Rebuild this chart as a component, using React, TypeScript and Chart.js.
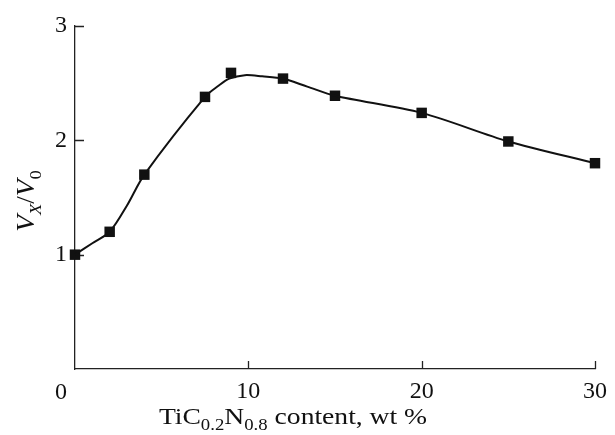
import React, { useEffect, useRef } from "react";
import { Chart, registerables } from "chart.js";

Chart.register(...registerables);

// Measured points (TiC0.2N0.8 content, wt % -> Vx/V0)
const markerX = [0, 2, 4, 7.5, 9, 12, 15, 20, 25, 30];
const markerY = [1.0, 1.2, 1.7, 2.38, 2.59, 2.54, 2.39, 2.24, 1.99, 1.8];

// Smooth fitted curve
const curveX = [0, 1, 2, 3, 4, 7.5, 8.3, 8.9, 9.8, 10.8, 12, 13.4, 15, 20, 25, 30];
const curveY = [1.0, 1.1, 1.2, 1.43, 1.7, 2.38, 2.48, 2.54, 2.57, 2.56, 2.54, 2.47, 2.39, 2.24, 1.99, 1.8];

// Tick labels
const xTicks = [0, 10, 20, 30];
const yTicks = [1, 2, 3];

type Part = { t: string; sub?: boolean; it?: boolean };
const xTitleParts: Part[] = [
  { t: "TiC" },
  { t: "0.2", sub: true },
  { t: "N" },
  { t: "0.8", sub: true },
  { t: " content, wt %" },
];
const yTitleParts: Part[] = [
  { t: "V", it: true },
  { t: "X", sub: true, it: true },
  { t: "/" },
  { t: "V", it: true },
  { t: "0", sub: true },
];

const FONT = "'Liberation Serif', 'Times New Roman', Times, serif";
const INK = "#111111";

function partsWidth(ctx: CanvasRenderingContext2D, parts: Part[], size: number) {
  let w = 0;
  for (const p of parts) {
    const fs = p.sub ? size * 0.68 : size;
    ctx.font = `${p.it ? "italic " : ""}${fs}px ${FONT}`;
    w += ctx.measureText(p.t).width;
  }
  return w;
}

function drawParts(ctx: CanvasRenderingContext2D, parts: Part[], size: number, x0: number) {
  let x = x0;
  for (const p of parts) {
    const fs = p.sub ? size * 0.68 : size;
    ctx.font = `${p.it ? "italic " : ""}${fs}px ${FONT}`;
    const dy = p.sub ? size * 0.26 : 0;
    ctx.fillText(p.t, x, dy);
    x += ctx.measureText(p.t).width;
  }
}

const decorPlugin = {
  id: "decor",
  beforeDatasetsDraw(chart: any) {
    const { ctx, chartArea, scales } = chart;
    const xs = scales.x;
    const ys = scales.y;
    ctx.save();
    ctx.strokeStyle = "#222";
    ctx.lineWidth = 1.3;
    ctx.beginPath();
    for (const v of xTicks) {
      if (v === 0) continue;
      const px = Math.round(xs.getPixelForValue(v)) + 0.5;
      ctx.moveTo(px, chartArea.bottom);
      ctx.lineTo(px, chartArea.bottom - 8);
    }
    for (const v of yTicks) {
      const py = Math.round(ys.getPixelForValue(v)) + 0.5;
      ctx.moveTo(chartArea.left, py);
      ctx.lineTo(chartArea.left + 9, py);
    }
    ctx.stroke();
    ctx.restore();
  },
  afterDraw(chart: any) {
    const { ctx, chartArea } = chart;
    ctx.save();
    ctx.fillStyle = INK;
    ctx.textBaseline = "alphabetic";

    // "0" corner label on the x axis (set to the left of the origin, as in the original)
    ctx.font = `24px ${FONT}`;
    ctx.textAlign = "center";
    ctx.fillText("0", chartArea.left - 14, 399);
    ctx.textAlign = "left";

    // X title
    const xs = 24;
    const xScaleH = 1.15;
    const wx = partsWidth(ctx, xTitleParts, xs) * xScaleH;
    ctx.save();
    ctx.translate(293 - wx / 2, 424);
    ctx.scale(xScaleH, 1);
    drawParts(ctx, xTitleParts, xs, 0);
    ctx.restore();

    // Y title (rotated)
    const ysz = 26;
    const yScaleH = 1.05;
    const wy = partsWidth(ctx, yTitleParts, ysz) * yScaleH;
    ctx.save();
    ctx.translate(34, 201);
    ctx.rotate(-Math.PI / 2);
    ctx.scale(yScaleH, 1);
    drawParts(ctx, yTitleParts, ysz, -wy / yScaleH / 2);
    ctx.restore();

    ctx.restore();
  },
};

export default function App() {
  const ref = useRef<HTMLCanvasElement | null>(null);

  useEffect(() => {
    if (!ref.current) return;
    const markers = markerX.map((x, i) => ({ x, y: markerY[i] }));
    const curve = curveX.map((x, i) => ({ x, y: curveY[i] }));

    const chart = new Chart(ref.current, {
      type: "scatter",
      data: {
        datasets: [
          {
            label: "fit",
            data: curve,
            showLine: true,
            borderColor: INK,
            borderWidth: 2,
            pointRadius: 0,
            tension: 0.3,
            clip: false,
          } as any,
          {
            label: "Vx/V0",
            data: markers,
            showLine: false,
            pointStyle: "rect",
            pointRadius: 7.4,
            pointBorderWidth: 0,
            backgroundColor: INK,
            borderColor: INK,
            clip: false,
          } as any,
        ],
      },
      options: {
        animation: false,
        responsive: true,
        maintainAspectRatio: false,
        layout: { padding: { top: 26, right: 15, left: 0, bottom: 0 } },
        plugins: {
          legend: { display: false },
          tooltip: { enabled: false },
          title: { display: false },
        },
        scales: {
          x: {
            type: "linear",
            min: 0,
            max: 30,
            afterFit: (s: any) => {
              s.height = 66;
            },
            grid: { display: false, drawTicks: false },
            border: { display: true, color: "#222", width: 1.3 },
            ticks: {
              stepSize: 10,
              padding: 8,
              color: INK,
              font: { family: FONT, size: 24 },
              callback: (v: any) => (v === 0 ? "" : String(v)),
            },
          },
          y: {
            type: "linear",
            min: 0,
            max: 3,
            afterFit: (s: any) => {
              s.width = 75;
            },
            grid: { display: false, drawTicks: false },
            border: { display: true, color: "#222", width: 1.3 },
            ticks: {
              stepSize: 1,
              padding: 8,
              color: INK,
              font: { family: FONT, size: 24 },
              callback: (v: any) => (v === 0 ? "" : String(v)),
            },
          },
        },
      },
      plugins: [decorPlugin],
    });

    return () => {
      chart.destroy();
    };
  }, []);

  return (
    <div style={{ position: "fixed", left: 0, top: 0, width: 615, height: 435, background: "#fff" }}>
      <canvas ref={ref} />
    </div>
  );
}
